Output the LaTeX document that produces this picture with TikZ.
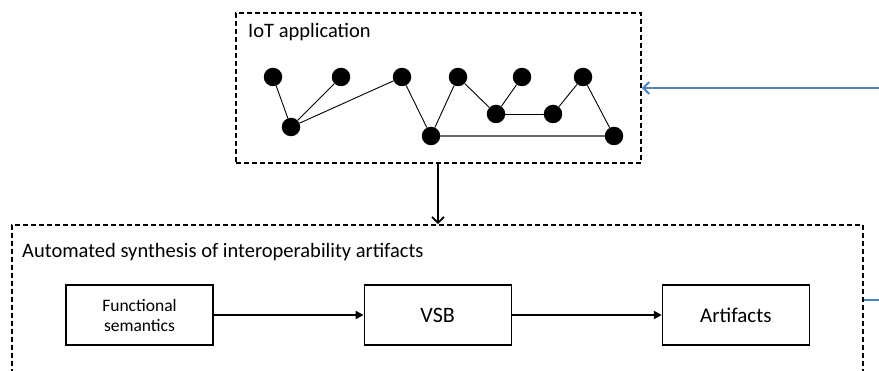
\documentclass[tikz,border=0pt]{standalone}
\usepackage{fontspec}
\setmainfont{Carlito}
\usetikzlibrary{arrows.meta,positioning}

\begin{document}
\begin{tikzpicture}[x=1pt,y=-1pt,node distance=0pt and 150pt,
  frame/.style={draw,dash pattern=on 5pt off 3pt,line width=1.6pt,minimum width=#1},
  dot/.style={circle,fill=black,inner sep=0pt,minimum size=18.5pt},
  blk/.style={draw,line width=1.2pt,minimum width=147pt,minimum height=60pt,align=center,inner sep=0pt},
  link/.style={line width=0.9pt},
  arr/.style={-{Triangle[length=8pt,width=8pt]},line width=2pt},
  down/.style={-{Straight Barb[length=6pt,width=12pt]},line width=1.8pt},
  feed/.style={line width=2pt,color={rgb,255:red,79;green,129;blue,189}}]
\useasboundingbox (0,0) rectangle (879,371);
\clip (0,0) rectangle (879,371);
% IoT application
\node[frame=405pt,minimum height=150pt] (app) at (438.5,88) {};
\node[anchor=base west,inner sep=0pt,font=\fontsize{20.5}{24}\selectfont] (apptitle) at (248,38) {IoT application};
\foreach \n/\x/\y in {p1/273/77,p2/341/77,p3/402/77,p4/458/77,p5/522/77,p6/583/77,
  q1/291/127,q2/431/136,q3/496/114,q4/553/114,q5/614/136}
  \node[dot] (\n) at (\x,\y) {};
\draw[link] (p1)--(q1); \draw[link] (p2)--(q1); \draw[link] (p3)--(q1);
\draw[link] (p3)--(q2); \draw[link] (p4)--(q2); \draw[link] (p4)--(q3);
\draw[link] (p5)--(q3); \draw[link] (q3)--(q4); \draw[link] (q4)--(p6);
\draw[link] (p6)--(q5); \draw[line width=1.3pt,black!60] (q2)--(q5);
% synthesis
\node[frame=851pt,minimum height=250pt] (syn) at (437.5,350) {};
\node[anchor=base west,inner sep=0pt,font=\fontsize{20.5}{24}\selectfont] (syntitle) at (22,258) {Automated synthesis of interoperability artifacts};
\node[blk,font=\fontsize{17.5}{20}\selectfont] (sem) at (139.5,315) {Functional\\semantics};
\node[blk,right=of sem,font=\fontsize{22}{26}\selectfont] (vsb) {VSB};
\node[blk,right=of vsb,font=\fontsize{21}{25}\selectfont] (art) {Artifacts};
\draw[arr] (sem)--(vsb); \draw[arr] (vsb)--(art);
\draw[down] ([xshift=-0.5pt]app.south) -- ([xshift=-0.5pt]app.south |- syn.north);
% feedback
\coordinate (fbin) at (879,88);
\coordinate (fbout) at (879,300);
\draw[feed,-{Straight Barb[length=6pt,width=12pt]}] (fbin) -- (app.east);
\draw[feed] (syn.east |- fbout) -- (fbout);
\end{tikzpicture}
\end{document}
